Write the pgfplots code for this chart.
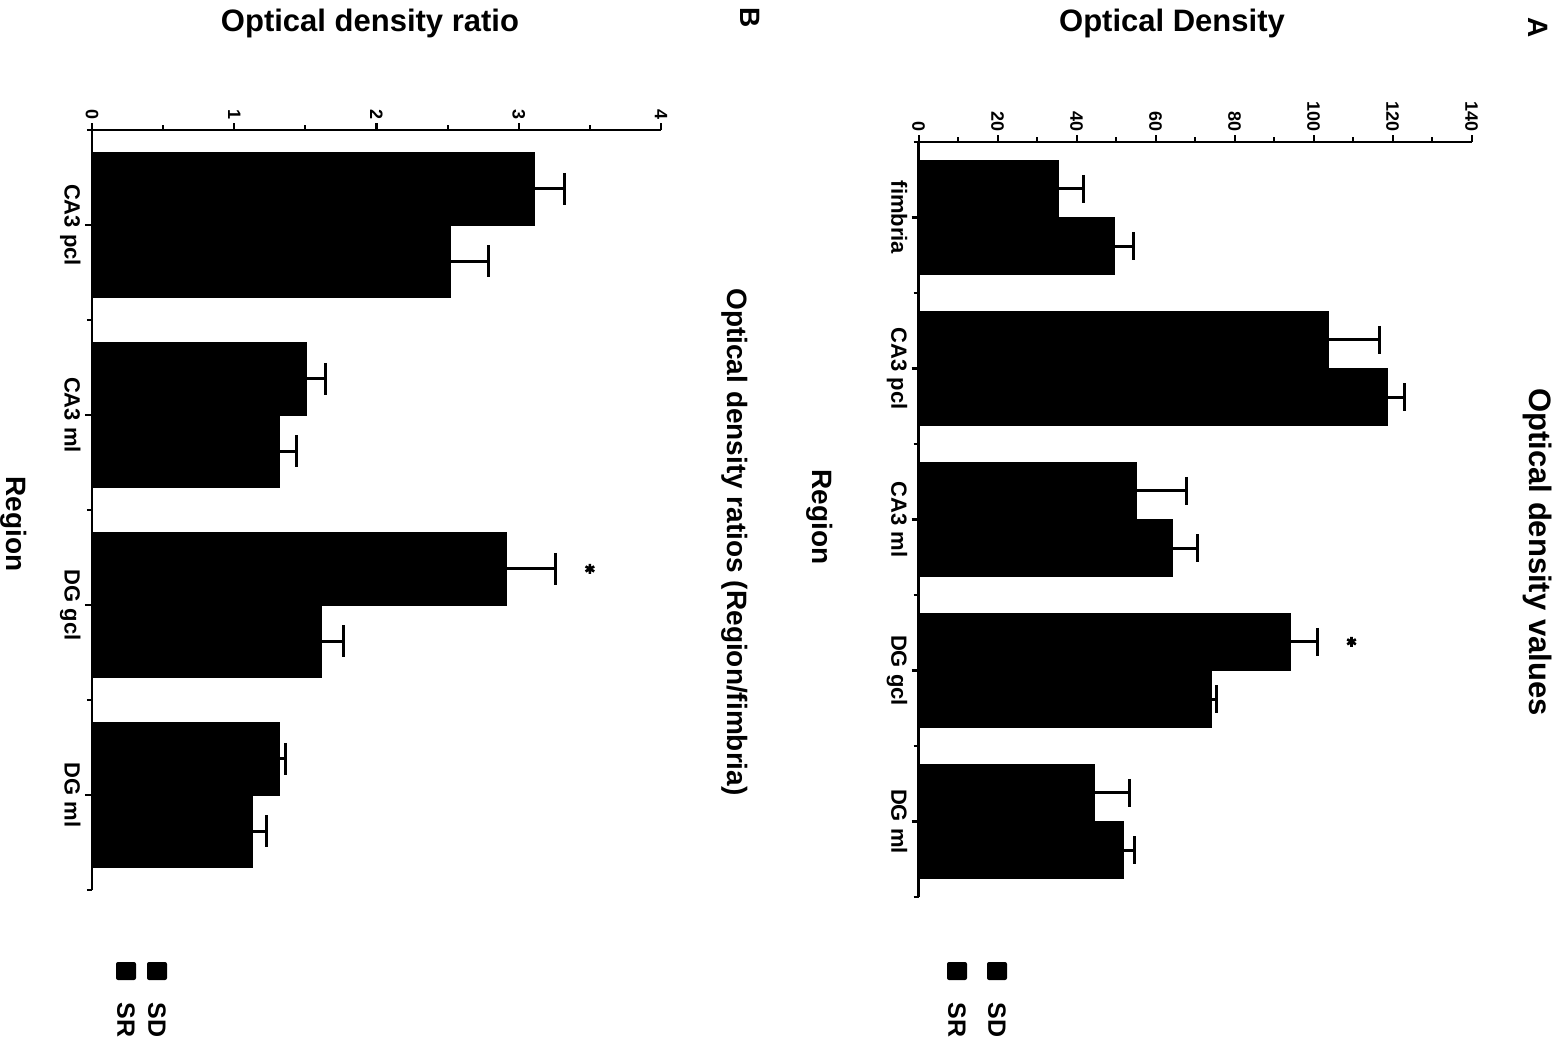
\documentclass[border=0pt]{standalone}
\usepackage{fontspec}
\setmainfont{Liberation Sans}
\usepackage{pgfplots}
\pgfplotsset{compat=1.18}
\begin{document}
\begin{tikzpicture}
\useasboundingbox (0pt,0pt) rectangle (782.5pt,-522.5pt);
\pgfplotsset{
  rotbar/.style={
    xbar, bar width=0.38, scale only axis,
    axis x line=top, axis y line=left,
    axis line style={-, line width=1.3pt},
    every tick/.style={black, line width=1.1pt},
    tick align=outside,
    major tick length=3.5pt, minor tick length=2.5pt,
    xmin=0,
    /pgf/number format/assume math mode=true,
    xticklabel style={rotate=-90, anchor=east, font=\fontsize{9}{10}\selectfont\bfseries, inner sep=1.5pt},
    yticklabel style={rotate=-90, anchor=north, font=\fontsize{11}{12}\selectfont\bfseries, inner sep=2pt},
    clip=false,
  },
  sd/.style={fill=black, draw=black, bar shift=0.19,
    error bars/.cd, x dir=plus, x explicit,
    error bar style={line width=1.5pt, black},
    error mark options={line width=1.5pt, mark size=#1, rotate=90, black}},
  sr/.style={fill=black, draw=black, bar shift=-0.19,
    error bars/.cd, x dir=plus, x explicit,
    error bar style={line width=1.5pt, black},
    error mark options={line width=1.5pt, mark size=#1, rotate=90, black}},
}
% Panel A
\begin{axis}[rotbar, at={(459.3pt,-71pt)}, anchor=north west,
  width=276.5pt, height=377.5pt,
  xmax=140, xtick={0,20,...,140}, minor x tick num=1,
  ymin=0.5, ymax=5.5, ytick={1,2,3,4,5},
  yticklabels={DG ml, DG gcl, CA3 ml, CA3 pcl, fimbria},
  minor ytick={0.5,1.5,2.5,3.5,4.5,5.5},
]
\addplot[sd=7pt] coordinates {
 (35.5,5) +- (6.2,0)
 (103.8,4) +- (12.9,0)
 (55.1,3) +- (12.8,0)
 (94.0,2) +- (7.1,0)
 (44.5,1) +- (8.9,0)
};
\addplot[sr=7pt] coordinates {
 (49.5,5) +- (4.9,0)
 (118.6,4) +- (4.3,0)
 (64.3,3) +- (6.4,0)
 (74.0,2) +- (1.5,0)
 (51.9,1) +- (2.7,0)
};
\addplot[only marks, mark=asterisk, mark size=2.5pt, line width=1.3pt, black] coordinates {(109.6,2.19)};
\end{axis}
% Panel B
\begin{axis}[rotbar, at={(46pt,-65pt)}, anchor=north west,
  width=284.5pt, height=380pt,
  xmax=4, xtick={0,1,2,3,4}, minor x tick num=1,
  ymin=0.5, ymax=4.5, ytick={1,2,3,4},
  yticklabels={DG ml, DG gcl, CA3 ml, CA3 pcl},
  minor ytick={0.5,1.5,2.5,3.5,4.5},
]
\addplot[sd=8pt] coordinates {
 (3.11,4) +- (0.21,0)
 (1.51,3) +- (0.13,0)
 (2.91,2) +- (0.35,0)
 (1.32,1) +- (0.04,0)
};
\addplot[sr=8pt] coordinates {
 (2.52,4) +- (0.27,0)
 (1.32,3) +- (0.12,0)
 (1.61,2) +- (0.16,0)
 (1.13,1) +- (0.10,0)
};
\addplot[only marks, mark=asterisk, mark size=2.5pt, line width=1.3pt, black] coordinates {(3.50,2.19)};
\end{axis}
% Labels
\begin{scope}[every node/.style={font=\fontsize{15.5}{17}\selectfont\bfseries}]
\node at (586pt,-11.5pt) {Optical Density};
\node at (185pt,-11.5pt) {Optical density ratio};
\node[rotate=-90] at (769pt,-276pt) {Optical density values};
\end{scope}
\begin{scope}[every node/.style={font=\fontsize{14}{16}\selectfont\bfseries}]
\node[rotate=-90] at (410pt,-258.5pt) {Region};
\node[rotate=-90] at (7pt,-262pt) {Region};
\node[rotate=-90] at (367.5pt,-271pt) {Optical density ratios (Region/fimbria)};
\node[rotate=-90] at (769pt,-14pt) {A};
\node[rotate=-90] at (375pt,-9pt) {B};
\end{scope}
% Legends
\begin{scope}[every node/.style={font=\fontsize{12.5}{14}\selectfont\bfseries}]
\fill[black, rounded corners=1pt] (493.5pt,-481pt) rectangle (503.5pt,-490pt);
\fill[black, rounded corners=1pt] (473.5pt,-481pt) rectangle (483.5pt,-490pt);
\node[rotate=-90] at (498.5pt,-510pt) {SD};
\node[rotate=-90] at (478.5pt,-510pt) {SR};
\fill[black, rounded corners=1pt] (73.5pt,-481pt) rectangle (83.5pt,-490pt);
\fill[black, rounded corners=1pt] (58pt,-481pt) rectangle (68pt,-490pt);
\node[rotate=-90] at (78.5pt,-510pt) {SD};
\node[rotate=-90] at (63pt,-510pt) {SR};
\end{scope}
\end{tikzpicture}
\end{document}
